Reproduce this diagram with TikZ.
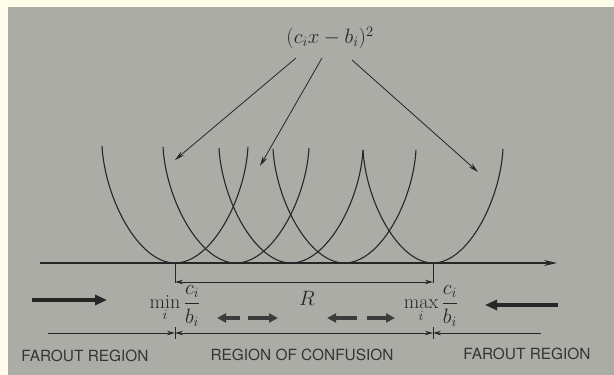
\documentclass[tikz,border=0pt]{standalone}
\usepackage{fontspec}
\newfontfamily\headsf{TeX Gyre Heros}
\usetikzlibrary{arrows.meta}
\definecolor{paper}{RGB}{172,172,167}
\definecolor{cream}{RGB}{255,252,234}
\definecolor{ink}{RGB}{38,38,38}
\definecolor{softink}{RGB}{52,52,52}
\tikzset{
  dimtip/.tip={Stealth[length=8pt,width=4.5pt]},
  mathlbl/.style={inner sep=0pt, text=ink, font=\fontsize{20}{24}\selectfont},
  region/.style={inner sep=0pt, text=softink, font=\headsf\fontsize{15.4}{18}\selectfont},
  curve/.style={draw=ink, line width=1.1pt},
  pointer/.style={draw=ink, line width=0.8pt, -{Stealth[length=10pt,width=5pt]}},
  axisline/.style={draw=ink, line width=1.3pt, -{Stealth[length=13pt,width=6pt]}},
  tickline/.style={draw=ink, line width=0.9pt},
  dimline/.style={draw=ink, line width=0.9pt},
  bigarrow/.style={draw=ink, line width=3.6pt, -{Triangle[length=12pt,width=10pt]}},
  smallthick/.style={draw=ink!90, line width=3.2pt, -{Triangle[length=9pt,width=9pt]}},
}
% bowl-shaped curve: vertex x, left top (x,y), right top (x,y), bottom y
\newcommand{\bowlcurve}[5]{%
  \draw[curve] (#2,#3) .. controls ({#2+0.04*(#1-#2)},{#3+0.45*(263-#3)}) and ({#1-0.5*(#1-#2)},263) .. (#1,263)
     .. controls ({#1+0.5*(#4-#1)},263) and ({#4-0.04*(#4-#1)},{#5+0.45*(263-#5)}) .. (#4,#5);}
\begin{document}
\begin{tikzpicture}[x=1pt,y=-1pt]
\fill[cream] (0,0) rectangle (614,375);
\fill[paper] (8,7) rectangle (614,375);
\useasboundingbox (0,0) rectangle (614,375);

% title and pointers
\node[mathlbl] (title) at (330,38) {$(c_ix-b_i)^2$};
\coordinate (t1) at (296,58);
\coordinate (t2) at (322,58);
\coordinate (t3) at (352,60);
\coordinate (e1) at (175,160);
\coordinate (e2) at (260,166);
\coordinate (e3) at (478,172);
\draw[pointer] (t1) -- (e1);
\draw[pointer] (t2) -- (e2);
\draw[pointer] (t3) -- (e3);

% bowls
\bowlcurve{175}{102}{146}{248}{147}
\bowlcurve{236}{163}{147}{309}{148}
\bowlcurve{291}{219}{148}{363}{150}
\bowlcurve{344.5}{273}{149}{416}{150}
\bowlcurve{433}{363}{150}{503}{149}

% axis
\coordinate (ax0) at (40,263);
\coordinate (ax1) at (557,263);
\draw[axisline] (ax0) -- (ax1);

% R dimension
\coordinate (lo) at (175,263);
\coordinate (hi) at (433,263);
\coordinate (loR) at (175,283);
\coordinate (hiR) at (433,283);
\draw[tickline] (lo) -- (loR);
\draw[tickline] (hi) -- (hiR);
\coordinate (rl) at (175,282);
\coordinate (rr) at (433,282);
\draw[dimline, dimtip-dimtip] (rl) -- (rr);
\node[mathlbl] (R) at (307,298) {$R$};

% min / max labels
\node[mathlbl] (minl) at (175,306) {$\displaystyle\min_i \frac{c_i}{b_i}$};
\node[mathlbl] (maxl) at (431,306) {$\displaystyle\max_i \frac{c_i}{b_i}$};

% thick arrows
\coordinate (la0) at (32,300);
\coordinate (la1) at (107,300);
\draw[bigarrow] (la0) -- (la1);
\coordinate (ra0) at (558,305);
\coordinate (ra1) at (485,305);
\draw[bigarrow] (ra0) -- (ra1);

\coordinate (d1a) at (240,318); \coordinate (d1b) at (217,318);
\coordinate (d2a) at (248,318); \coordinate (d2b) at (278,318);
\coordinate (d3a) at (357,318); \coordinate (d3b) at (327,318);
\coordinate (d4a) at (367,318); \coordinate (d4b) at (395,318);
\draw[smallthick] (d1a) -- (d1b);
\draw[smallthick] (d2a) -- (d2b);
\draw[smallthick] (d3a) -- (d3b);
\draw[smallthick] (d4a) -- (d4b);

% region line
\coordinate (b0) at (48,333);
\coordinate (bl) at (175,333);
\coordinate (br) at (433,333);
\coordinate (b1) at (541,333);
\coordinate (blt) at (175,327); \coordinate (blb) at (175,339);
\coordinate (brt) at (433,327); \coordinate (brb) at (433,339);
\draw[tickline] (blt) -- (blb);
\draw[tickline] (brt) -- (brb);
\draw[dimline, -dimtip] (b0) -- (bl);
\draw[dimline, dimtip-dimtip] (bl) -- (br);
\draw[dimline, -dimtip] (b1) -- (br);

% region texts
\node[region] (far1) at (85,356) {FAROUT REGION};
\node[region] (conf) at (302,355) {REGION OF CONFUSION};
\node[region] (far2) at (527,354) {FAROUT REGION};
\end{tikzpicture}
\end{document}
